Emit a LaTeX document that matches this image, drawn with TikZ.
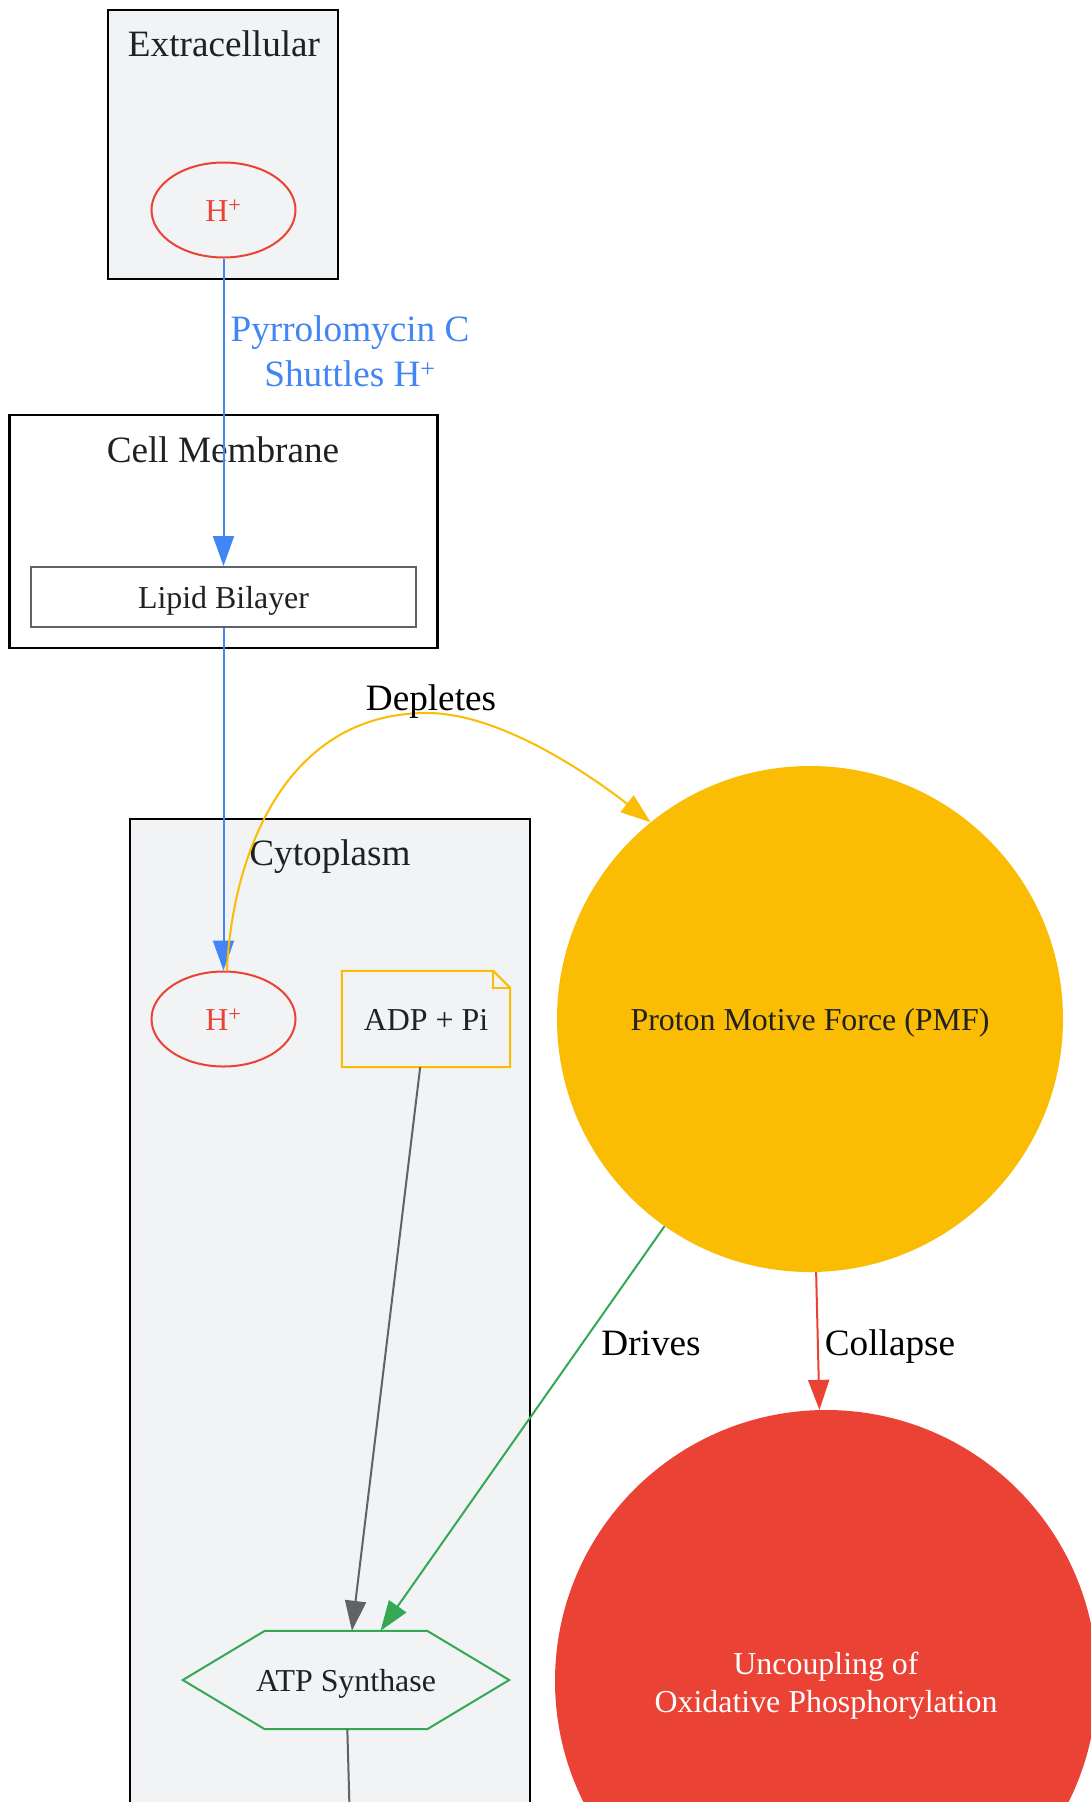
\documentclass[tikz,border=0pt]{standalone}
\usepackage{fontspec}
\setmainfont{Liberation Serif}
\usetikzlibrary{arrows.meta,calc,shapes.geometric}
\definecolor{gbg}{HTML}{F1F3F4}
\definecolor{gred}{HTML}{EA4335}
\definecolor{gblue}{HTML}{4285F4}
\definecolor{gyellow}{HTML}{FBBC04}
\definecolor{ggreen}{HTML}{34A853}
\definecolor{ggray}{HTML}{5F6368}
\definecolor{gtext}{HTML}{202124}
\newcommand{\bigfont}{\fontsize{37.2}{44.6}\selectfont}
\newcommand{\nodefont}{\fontsize{31.9}{38.3}\selectfont}
\begin{document}
\begin{tikzpicture}[x=1pt,y=-1pt,
  clusterbox/.style={draw=black,line width=2.5pt},
  clabel/.style={font=\bigfont,text=gtext,anchor=base,inner sep=0},
  elabel/.style={font=\bigfont,text=black,anchor=base,inner sep=0},
  nd/.style={font=\nodefont,text=gtext,inner sep=0,text height=25.5pt,text depth=2.5pt},
  proton/.style={nd,ellipse,draw=gred,line width=2pt,text=gred,minimum width=144pt,minimum height=95pt},
  conn/.style={line width=2pt,-{Triangle[length=30pt,width=21pt]}},
]
\useasboundingbox (0,0) rectangle (1091,1802);
\clip (0,0) rectangle (1091,1802);
\fill[white] (0,0) rectangle (1091,1802);

% clusters
\draw[clusterbox,fill=gbg] (108,10) rectangle (338,279);
\node[clabel] (lextra) at (224,56) {Extracellular};
\draw[clusterbox,fill=white] (9.6,415) rectangle (437.5,648);
\node[clabel] (lmem) at (223,462) {Cell Membrane};
\draw[clusterbox,fill=gbg] (130,819) rectangle (530,1900);
\node[clabel] (lcyto) at (330,865) {Cytoplasm};

% nodes
\node[proton] (hx) at (223.5,210) {H\textsuperscript{+}};
\node[nd,draw=ggray,line width=2pt,fill=white,minimum width=385pt,minimum height=60pt] (lipid) at (223.5,597) {Lipid Bilayer};
\node[proton] (hc) at (223.5,1019) {H\textsuperscript{+}};
\node[nd,minimum width=168pt,minimum height=96pt] (adp) at (426,1019) {ADP + Pi};
\draw[gyellow,line width=2pt] (adp.north west) -- ($(adp.north east)+(-17,0)$) -- ($(adp.north east)+(0,17)$) -- (adp.south east) -- (adp.south west) -- cycle;
\draw[gyellow,line width=2pt] ($(adp.north east)+(-17,0)$) -- ($(adp.north east)+(-17,17)$) -- ($(adp.north east)+(0,17)$);
\node[nd,circle,fill=gyellow,minimum size=506pt] (pmf) at (810,1019) {Proton Motive Force (PMF)};
\node[nd,minimum width=326pt,minimum height=98pt] (atp) at (346,1680) {ATP Synthase};
\draw[ggreen,line width=2pt] ($(atp.north west)+(82,0)$) -- ($(atp.north east)+(-82,0)$) -- (atp.east) -- ($(atp.south east)+(-82,0)$) -- ($(atp.south west)+(82,0)$) -- (atp.west) -- cycle;
\node[circle,fill=gred,minimum size=542pt,inner sep=0,
  label={[name=unctext,inner sep=0,font=\nodefont,text=white,align=center,yshift=-5pt]center:{Uncoupling of\\Oxidative Phosphorylation}}] (unc) at (826,1681) {};

% edges
\draw[conn,gblue] (hx) -- (lipid);
\node[font=\bigfont,text=gblue,align=center,inner sep=0] (lshuttle) at (350,351) {Pyrrolomycin C\\Shuttles H\textsuperscript{+}};
\draw[conn,gblue] (lipid) -- (hc);
\coordinate (dpk) at (427,713);
\draw[conn,gyellow] (hc.86) .. controls (232,860) and (282,713) .. (dpk) .. controls (502,713) and (594,778) .. (pmf.129);
\node[elabel] (ldep) at (431,710) {Depletes};
\draw[conn,ggray] (adp) -- (atp);
\draw[conn,ggreen] (pmf) -- (atp);
\node[elabel] (ldrive) at (651,1355) {Drives};
\draw[conn,gred] (pmf) -- (unc);
\node[elabel] (lcoll) at (890,1355) {Collapse};
\coordinate (below) at (352,1900);
\draw[ggray,line width=2pt] (atp) -- (below);
\end{tikzpicture}
\end{document}
